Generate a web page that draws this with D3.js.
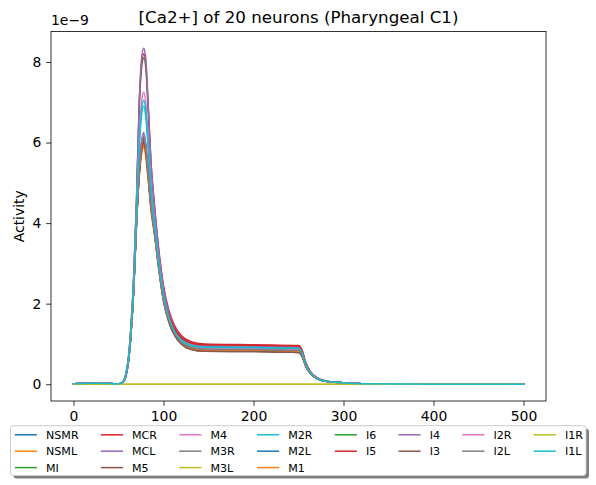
<!DOCTYPE html>
<html>
<head>
<meta charset="utf-8">
<script src="https://cdn.jsdelivr.net/npm/d3@7"></script>
<style>
  html, body { margin: 0; padding: 0; background: #fff; }
  svg { display: block; font-family: "DejaVu Sans", sans-serif; }
</style>
</head>
<body>
<svg id="chart" width="596" height="485"></svg>
<script>
// ---- data (values in units of 1e-9) ----
const time = [0,20,40,50,55,58,61,64,67,70,73,76,78,80,83,86,90,95,100,106,112,120,130,145,200,250,254,258,263,270,280,295,320,400,500];

const neurons = ["NSMR","NSML","MI","MCR","MCL","M5","M4","M3R","M3L","M2R","M2L","M1","I6","I5","I4","I3","I2R","I2L","I1R","I1L"];

const NSMR = [0.01,0.025,0.02,0.005,0.05,0.19,0.56,1.3,2.4,4.0,5.2,5.85,6.0,5.8,5.15,4.4,3.75,2.85,2.1,1.58,1.27,1.03,0.91,0.86,0.85,0.83,0.73,0.47,0.28,0.15,0.07,0.04,0.01,0,0];
const NSML = [0.01,0.025,0.02,0.005,0.05,0.19,0.55,1.28,2.37,3.95,5.12,5.76,5.9,5.7,5.07,4.34,3.7,2.8,2.06,1.54,1.23,1.0,0.88,0.83,0.82,0.8,0.7,0.45,0.27,0.15,0.07,0.04,0.01,0,0];
const MI   = [0.01,0.025,0.02,0.005,0.06,0.23,0.63,1.45,2.68,4.5,6.85,7.92,8.1,7.93,6.8,5.45,4.35,3.2,2.36,1.75,1.4,1.14,1.0,0.94,0.92,0.9,0.79,0.51,0.3,0.16,0.08,0.04,0.01,0,0];
const MCR  = [0.01,0.025,0.02,0.005,0.06,0.23,0.64,1.47,2.7,4.55,6.9,8.02,8.2,8.05,6.9,5.55,4.45,3.3,2.45,1.83,1.47,1.2,1.06,1.0,0.98,0.96,0.84,0.54,0.32,0.17,0.08,0.04,0.01,0,0];
const MCL  = [0.01,0.025,0.02,0.005,0.06,0.24,0.66,1.5,2.75,4.6,7.0,8.15,8.34,8.15,6.95,5.55,4.4,3.25,2.4,1.78,1.42,1.16,1.02,0.96,0.94,0.92,0.81,0.52,0.31,0.17,0.08,0.04,0.01,0,0];
const M5   = [0.01,0.025,0.02,0.005,0.05,0.19,0.56,1.3,2.42,4.02,5.26,5.92,6.07,5.86,5.2,4.43,3.76,2.84,2.07,1.54,1.23,0.99,0.87,0.82,0.81,0.79,0.69,0.45,0.27,0.14,0.07,0.04,0.01,0,0];
const M4   = [0.01,0.025,0.02,0.005,0.05,0.21,0.6,1.38,2.55,4.32,6.1,7.08,7.25,7.05,6.1,5.0,4.05,3.05,2.24,1.68,1.35,1.1,0.98,0.92,0.9,0.88,0.77,0.5,0.29,0.16,0.08,0.04,0.01,0,0];
const M3R  = [0.01,0.025,0.02,0.005,0.05,0.2,0.57,1.32,2.45,4.07,5.35,6.04,6.2,5.98,5.3,4.5,3.82,2.9,2.13,1.6,1.28,1.04,0.92,0.87,0.86,0.84,0.74,0.48,0.28,0.15,0.07,0.04,0.01,0,0];
const M3L  = [0,0,0,0,0,0,0,0,0,0,0,0,0,0,0,0,0,0,0,0,0,0,0,0,0,0,0,0,0,0,0,0,0,0,0];
const M2R  = [0.01,0.025,0.02,0.005,0.05,0.2,0.58,1.35,2.5,4.22,5.85,6.75,6.9,6.7,5.85,4.85,3.97,2.98,2.2,1.65,1.33,1.09,0.97,0.92,0.91,0.89,0.78,0.5,0.3,0.16,0.08,0.04,0.01,0,0];
const M2L  = [0.01,0.025,0.02,0.005,0.05,0.19,0.56,1.3,2.41,4.01,5.22,5.87,6.02,5.82,5.17,4.42,3.77,2.87,2.12,1.6,1.28,1.04,0.92,0.87,0.86,0.84,0.74,0.48,0.28,0.15,0.07,0.04,0.01,0,0];
const M1   = [0.01,0.025,0.02,0.005,0.05,0.19,0.55,1.29,2.38,3.97,5.16,5.8,5.95,5.75,5.1,4.37,3.72,2.82,2.08,1.56,1.25,1.01,0.89,0.84,0.83,0.81,0.71,0.46,0.27,0.15,0.07,0.04,0.01,0,0];
const I6   = [0.01,0.025,0.02,0.005,0.05,0.2,0.57,1.31,2.43,4.04,5.3,5.97,6.12,5.91,5.24,4.46,3.8,2.89,2.13,1.61,1.29,1.05,0.93,0.88,0.87,0.85,0.75,0.48,0.28,0.15,0.07,0.04,0.01,0,0];
const I5   = [0.01,0.025,0.02,0.005,0.05,0.19,0.56,1.3,2.4,4.0,5.2,5.85,6.0,5.82,5.2,4.48,3.86,2.97,2.22,1.7,1.39,1.15,1.03,0.98,0.97,0.94,0.83,0.53,0.32,0.17,0.08,0.04,0.01,0,0];
const I4   = [0.01,0.025,0.02,0.005,0.05,0.2,0.57,1.33,2.46,4.09,5.39,6.09,6.25,6.03,5.34,4.53,3.85,2.92,2.15,1.62,1.3,1.06,0.94,0.89,0.88,0.86,0.76,0.49,0.29,0.16,0.07,0.04,0.01,0,0];
const I3   = [0.01,0.025,0.02,0.005,0.05,0.19,0.56,1.3,2.42,4.03,5.28,5.95,6.1,5.89,5.22,4.44,3.77,2.85,2.08,1.55,1.23,0.99,0.87,0.82,0.81,0.79,0.69,0.45,0.27,0.14,0.07,0.04,0.01,0,0];
const I2R  = [0.01,0.025,0.02,0.005,0.05,0.2,0.57,1.32,2.45,4.06,5.34,6.03,6.18,5.96,5.28,4.49,3.82,2.9,2.14,1.62,1.3,1.06,0.94,0.89,0.88,0.86,0.76,0.49,0.29,0.16,0.07,0.04,0.01,0,0];
const I2L  = [0.01,0.025,0.02,0.005,0.05,0.2,0.57,1.31,2.44,4.05,5.32,6.0,6.15,5.94,5.26,4.47,3.8,2.88,2.12,1.6,1.28,1.04,0.92,0.87,0.86,0.84,0.74,0.48,0.28,0.15,0.07,0.04,0.01,0,0];
const I1R  = [0,0,0,0,0,0,0,0,0,0,0,0,0,0,0,0,0,0,0,0,0,0,0,0,0,0,0,0,0,0,0,0,0,0,0];
const I1L  = [0.01,0.025,0.02,0.005,0.05,0.2,0.58,1.35,2.5,4.25,5.95,6.9,7.05,6.85,5.95,4.9,4.0,3.0,2.2,1.65,1.32,1.08,0.96,0.92,0.91,0.89,0.78,0.5,0.3,0.16,0.08,0.04,0.01,0,0];

const seriesValues = [NSMR,NSML,MI,MCR,MCL,M5,M4,M3R,M3L,M2R,M2L,M1,I6,I5,I4,I3,I2R,I2L,I1R,I1L];

const xTicks = [0,100,200,300,400,500];
const yTicks = [0,2,4,6,8];
const titleText = "[Ca2+] of 20 neurons (Pharyngeal C1)";
const yLabel = "Activity";
const offsetText = "1e\u22129";

// ---- layout ----
const svg = d3.select("#chart");
const L = 51, R = 546, T = 31.5, B = 401;
const palette = ["#1f77b4","#ff7f0e","#2ca02c","#d62728","#9467bd","#8c564b","#e377c2","#7f7f7f","#bcbd22","#17becf"];

const x = d3.scaleLinear().domain([-25, 525]).range([L, R]);
const yMax = 8.34, yMin = 0, m = 0.05 * (yMax - yMin);
const y = d3.scaleLinear().domain([yMin - m, yMax + m]).range([B, T]);

const color = d3.scaleOrdinal().domain(neurons).range(palette);

svg.append("defs").append("clipPath").attr("id","clip")
  .append("rect").attr("x",L).attr("y",T).attr("width",R-L).attr("height",B-T);

const line = d3.line().x(d => x(d[0])).y(d => y(d[1])).curve(d3.curveMonotoneX);

const gLines = svg.append("g").attr("clip-path","url(#clip)");
neurons.forEach((n, i) => {
  const pts = time.map((t, k) => [t, seriesValues[i][k]]);
  gLines.append("path")
    .attr("d", line(pts))
    .attr("fill","none")
    .attr("stroke", color(n))
    .attr("stroke-width",1.5)
    .attr("stroke-linejoin","round")
    .attr("stroke-linecap","square");
});

// axes
const fs = 13.9;
const tick = 4.86;
const xAxis = d3.axisBottom(x).tickValues(xTicks).tickSize(tick).tickPadding(4.86).tickSizeOuter(0).tickFormat(d3.format("d"));
const gx = svg.append("g").attr("transform",`translate(0,${B})`).call(xAxis);
const yAxis = d3.axisLeft(y).tickValues(yTicks).tickSize(tick).tickPadding(4.86).tickSizeOuter(0).tickFormat(d3.format("d"));
const gy = svg.append("g").attr("transform",`translate(${L},0)`).call(yAxis);
[gx, gy].forEach(g => {
  g.select(".domain").remove();
  g.selectAll(".tick line").attr("stroke","#000").attr("stroke-width",0.8);
  g.selectAll(".tick text").attr("fill","#000").style("font-size", fs + "px").style("font-family","DejaVu Sans");
});

svg.append("rect").attr("x",L).attr("y",T).attr("width",R-L).attr("height",B-T)
  .attr("fill","none").attr("stroke","#000").attr("stroke-width",0.8);

svg.append("text").attr("x",(L+R)/2).attr("y",T-8.3).attr("text-anchor","middle")
  .style("font-size","16.7px").attr("fill","#000").text(titleText);

svg.append("text").attr("x",L).attr("y",T-7).style("font-size", fs+"px").attr("fill","#000").text(offsetText);

svg.append("text").attr("transform",`translate(23.5,${(T+B)/2}) rotate(-90)`).attr("text-anchor","middle")
  .style("font-size", fs+"px").attr("fill","#000").text(yLabel);

// legend: 8 columns; matplotlib distribution (first n%ncol columns get one extra item)
const lfs = 11.1;
const ncol = 8;
const nItems = neurons.length;
const base = Math.floor(nItems / ncol), extra = nItems % ncol;
const cols = [];
let idx = 0;
for (let c = 0; c < ncol; c++) {
  const cnt = base + (c < extra ? 1 : 0);
  cols.push(neurons.slice(idx, idx + cnt));
  idx += cnt;
}
const legX0 = 14.8, rowY0 = 434.8, rowStep = 16.4;
const handleLen = 22.2, textPad = 9.0, colSpace = 22.2;
const gLeg = svg.append("g");
const gShadow = gLeg.append("g");
const gFrame = gLeg.append("g");
const gItems = gLeg.append("g");
const meas = svg.append("text").style("font-size", lfs+"px");
const colW = cols.map(items => d3.max(items, t => { meas.text(t); return meas.node().getComputedTextLength(); }) || 0);
meas.remove();
let cx = legX0;
cols.forEach((items, c) => {
  items.forEach((n, r) => {
    const yy = rowY0 + r*rowStep;
    gItems.append("line").attr("x1",cx).attr("x2",cx+handleLen).attr("y1",yy).attr("y2",yy)
      .attr("stroke",color(n)).attr("stroke-width",1.5);
    gItems.append("text").attr("x",cx+handleLen+textPad).attr("y",yy).attr("dy","0.36em")
      .style("font-size",lfs+"px").attr("fill","#000").text(n);
  });
  cx += handleLen + textPad + colW[c] + colSpace;
});
const fx0 = 10.5, fx1 = 586, fy0 = 425.7, fy1 = 475.5;
gShadow.append("rect").attr("x",fx0+3).attr("y",fy0+3).attr("width",fx1-fx0).attr("height",fy1-fy0)
  .attr("rx",3).attr("fill","#808080");
gFrame.append("rect").attr("x",fx0).attr("y",fy0).attr("width",fx1-fx0).attr("height",fy1-fy0)
  .attr("rx",3).attr("fill","#fff").attr("stroke","#cccccc").attr("stroke-width",1);
</script>
</body>
</html>
